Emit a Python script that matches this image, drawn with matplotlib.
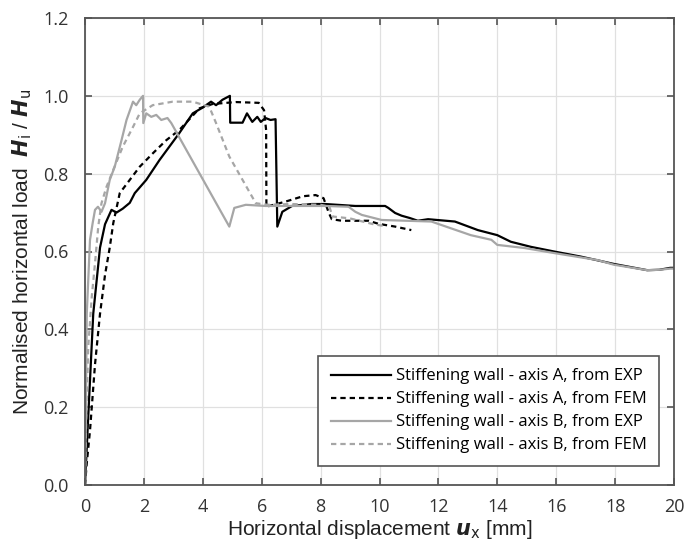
import numpy as np
import matplotlib.pyplot as plt

# Stiffening wall - axis A, experiment
a_exp_x = [0.0, 0.1, 0.28, 0.51, 0.68, 0.9, 1.07, 1.28, 1.52, 1.69, 2.08, 2.53, 2.87, 3.2,
           3.66, 4.0, 4.28, 4.45, 4.67, 4.92, 4.93, 5.35, 5.5, 5.68, 5.85, 5.97, 6.13, 6.3,
           6.47, 6.53, 6.7, 7.03, 7.7, 8.16, 9.18, 10.19, 10.3, 10.53, 10.75, 11.03, 11.3,
           11.65, 12.56, 13.34, 14.0, 14.46, 15.14, 15.93, 16.83, 17.96, 19.09, 19.5,
           19.87, 20.0]
a_exp_y = [0.0, 0.16, 0.44, 0.61, 0.67, 0.707, 0.70, 0.71, 0.725, 0.75, 0.784, 0.835, 0.87,
           0.904, 0.955, 0.97, 0.985, 0.976, 0.99, 1.0, 0.931, 0.931, 0.955, 0.933, 0.946,
           0.933, 0.943, 0.938, 0.94, 0.664, 0.702, 0.717, 0.722, 0.722, 0.717, 0.717,
           0.712, 0.699, 0.692, 0.686, 0.679, 0.683, 0.677, 0.655, 0.642, 0.625, 0.612,
           0.6, 0.587, 0.568, 0.552, 0.553, 0.558, 0.558]

# Stiffening wall - axis A, FEM
a_fem_x = [0.0, 0.06, 0.17, 0.34, 0.51, 0.68, 0.84, 0.96, 1.18, 1.52, 1.86, 2.3, 2.76,
           3.2, 3.89, 4.33, 5.12, 5.9, 6.08, 6.15, 6.16, 6.8, 7.4, 7.83, 8.1, 8.28, 8.38,
           8.72, 9.63, 9.97, 10.53, 11.08]
a_fem_y = [0.0, 0.056, 0.14, 0.31, 0.44, 0.54, 0.61, 0.673, 0.75, 0.784, 0.818, 0.852,
           0.886, 0.912, 0.968, 0.979, 0.984, 0.982, 0.963, 0.912, 0.715, 0.728, 0.742,
           0.745, 0.737, 0.699, 0.683, 0.679, 0.679, 0.671, 0.664, 0.655]

# Stiffening wall - axis B, experiment
b_exp_x = [0.0, 0.03, 0.06, 0.17, 0.26, 0.34, 0.44, 0.56, 0.68, 0.84, 1.01, 1.24, 1.41,
           1.63, 1.74, 1.86, 1.97, 1.98, 2.08, 2.25, 2.42, 2.59, 2.8, 2.93, 4.9, 5.07,
           5.46, 6.13, 7.15, 8.16, 8.95, 9.18, 9.4, 9.97, 10.07, 11.76, 13.1, 13.8, 14.0,
           14.92, 15.93, 17.4, 17.96, 19.09, 19.5, 19.87, 20.0]
b_exp_y = [0.0, 0.2, 0.44, 0.63, 0.673, 0.707, 0.715, 0.702, 0.724, 0.784, 0.818, 0.886,
           0.938, 0.985, 0.976, 0.99, 1.0, 0.93, 0.955, 0.946, 0.951, 0.938, 0.943, 0.93,
           0.664, 0.712, 0.72, 0.717, 0.717, 0.717, 0.715, 0.702, 0.694, 0.683, 0.681,
           0.677, 0.642, 0.63, 0.617, 0.609, 0.596, 0.578, 0.566, 0.552, 0.553, 0.556,
           0.556]

# Stiffening wall - axis B, FEM
b_fem_x = [0.0, 0.05, 0.11, 0.23, 0.34, 0.45, 0.56, 0.73, 0.96, 1.28, 1.63, 1.86, 2.3,
           2.98, 3.66, 4.22, 4.45, 4.9, 5.35, 5.8, 6.2, 7.0, 8.0, 8.3, 8.4, 9.0, 9.8, 10.2]
b_fem_y = [0.0, 0.2, 0.355, 0.484, 0.57, 0.664, 0.724, 0.766, 0.81, 0.869, 0.92, 0.955,
           0.976, 0.985, 0.985, 0.972, 0.93, 0.844, 0.784, 0.724, 0.72, 0.722, 0.72, 0.715,
           0.69, 0.685, 0.67, 0.665]

labels = ["Stiffening wall - axis A, from EXP", "Stiffening wall - axis A, from FEM",
          "Stiffening wall - axis B, from EXP", "Stiffening wall - axis B, from FEM"]

fig = plt.figure(figsize=(6.86, 5.44), dpi=100)
ax = fig.add_axes([85 / 686, 59 / 544, 589 / 686, 467 / 544])

gray = "#a6a6a6"
dash = (0, (2.4, 1.8))
ax.plot(a_exp_x, a_exp_y, color="black", lw=1.6, label=labels[0])
ax.plot(a_fem_x, a_fem_y, color="black", lw=1.6, ls=dash, label=labels[1])
ax.plot(b_exp_x, b_exp_y, color=gray, lw=1.6, label=labels[2])
ax.plot(b_fem_x, b_fem_y, color=gray, lw=1.6, ls=dash, label=labels[3])

ax.set_xlim(0, 20)
ax.set_ylim(0, 1.2)
ax.set_xticks(np.arange(0, 21, 2))
ax.set_yticks(np.arange(0, 1.21, 0.2))
ax.set_yticklabels(["%.1f" % v for v in np.arange(0, 1.21, 0.2)])
ax.grid(True, color="#e0e0e0", lw=0.9)
ax.set_axisbelow(True)
ax.tick_params(direction="in", top=True, right=True, length=5, width=1.2,
               color="#555555", labelsize=13, labelcolor="#333333")
ax.tick_params(axis="y", pad=12)
ax.tick_params(axis="x", pad=9)
for lab in ax.get_xticklabels() + ax.get_yticklabels():
    lab.set_fontfamily("Open Sans")
for s in ax.spines.values():
    s.set_color("#555555")
    s.set_linewidth(1.3)

ax.set_xlabel(r"Horizontal displacement $\mathbfit{u}_\mathrm{x}$ [mm]",
              fontsize=15, family="Liberation Sans", color="#222222", labelpad=2)
ax.set_ylabel(r"Normalised horizontal load  $\mathbfit{H}_\mathrm{i}$ / $\mathbfit{H}_\mathrm{u}$",
              fontsize=15, family="Liberation Sans", color="#222222", labelpad=6)

leg = ax.legend(loc="lower right", bbox_to_anchor=(0.9745, 0.041), borderaxespad=0,
                fancybox=False, framealpha=1, edgecolor="#555555", handlelength=3.6,
                handletextpad=0.3, borderpad=0.75, labelspacing=0.42,
                prop={"family": "Open Sans", "size": 12})
leg.get_frame().set_linewidth(1.2)

fig.savefig("out.png", dpi=100)
